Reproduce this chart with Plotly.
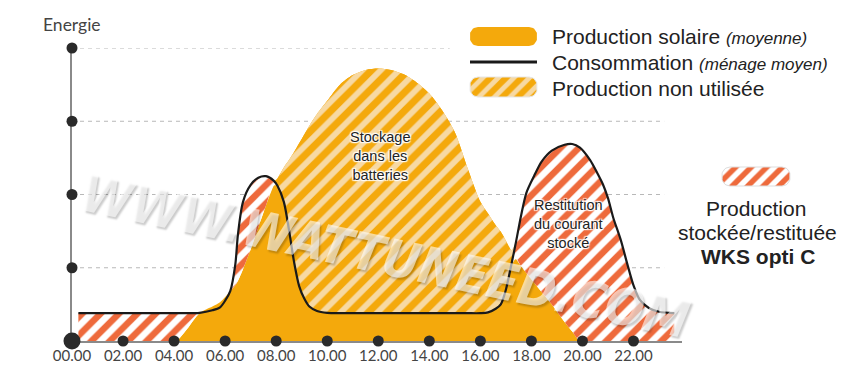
import numpy as np
import plotly.graph_objects as go

REF_W, REF_H = 853, 378
OFF = 8                      # page body margin of the exported html
W, H = REF_W - OFF, REF_H - OFF

# ---- data ----
hours = [0.25, 1, 2, 3, 4, 4.1, 4.5, 5.0, 5.5, 5.8, 6.0, 6.2, 6.4, 6.5, 6.7, 7.0, 7.3, 7.6,
         7.9, 8.05, 8.3, 8.5, 8.7, 8.9, 9.1, 9.3, 9.6, 10.0, 10.5, 11.0, 11.5, 12.0, 12.5,
         13.0, 13.5, 14.0, 14.5, 15.0, 15.5, 16.0, 16.3, 16.6, 16.8, 17.0, 17.2, 17.4, 17.6,
         17.8, 18.1, 18.4, 18.8, 19.3, 19.6, 19.9, 20.3, 20.6, 20.8, 21.0, 21.2, 21.5, 21.75,
         22.0, 22.25, 22.6, 23.0, 23.6]
production = [0, 0, 0, 0, 0, 0, 0.16, 0.38, 0.47, 0.53, 0.60, 0.68, 0.76, 0.82, 0.98, 1.25, 1.55, 1.85,
              2.12, 2.22, 2.37, 2.47, 2.58, 2.70, 2.82, 2.94, 3.10, 3.28, 3.50, 3.63, 3.70, 3.72, 3.70,
              3.64, 3.53, 3.38, 3.15, 2.85, 2.36, 1.90, 1.74, 1.58, 1.49, 1.37, 1.24, 1.12, 1.02,
              0.93, 0.80, 0.67, 0.50, 0.26, 0.13, 0.0, 0, 0, 0, 0, 0, 0, 0,
              0, 0, 0, 0, 0]
consumption = [0.38, 0.38, 0.38, 0.38, 0.38, 0.38, 0.38, 0.385, 0.42, 0.46, 0.55, 0.68, 1.05, 1.45, 1.90, 2.13, 2.23, 2.25,
               2.19, 2.12, 1.90, 1.52, 1.08, 0.75, 0.58, 0.47, 0.41, 0.385, 0.38, 0.38, 0.38, 0.38, 0.38,
               0.38, 0.38, 0.38, 0.38, 0.38, 0.38, 0.38, 0.39, 0.44, 0.50, 0.70, 1.02, 1.36, 1.72,
               2.02, 2.25, 2.45, 2.60, 2.68, 2.69, 2.64, 2.47, 2.28, 2.14, 1.95, 1.69, 1.38, 1.06,
               0.76, 0.56, 0.45, 0.40, 0.38]
hatch_start = 7.0  # unused-production hatching shown from the morning peak on

tick_hours = [0, 2, 4, 6, 8, 10, 12, 14, 16, 18, 20, 22]
tick_labels = ["00.00", "02.00", "04.00", "06.00", "08.00", "10.00", "12.00",
               "14.00", "16.00", "18.00", "20.00", "22.00"]
y_levels = [1, 2, 3, 4]

ORANGE = "#F4A90C"
ORANGE_LIGHT = "#F7D9A3"
RED = "#EE6A3C"
DOT = "#2a2a2a"
AXIS = "#8a8a8a"

h = np.array(hours)
P = np.array(production)
C = np.array(consumption)
lo = np.minimum(P, C)
hatch_top = np.where(h >= hatch_start, np.maximum(P, C), C)

fig = go.Figure()
spl = dict(shape="spline", smoothing=0.8, width=0)

fig.add_trace(go.Scatter(x=h, y=P, mode="lines", line=dict(color=ORANGE, **spl),
                         fill="tozeroy", fillcolor=ORANGE, hoverinfo="skip"))
fig.add_trace(go.Scatter(x=h, y=C, mode="lines", line=dict(color="rgba(0,0,0,0)", **spl),
                         hoverinfo="skip"))
fig.add_trace(go.Scatter(x=h, y=hatch_top, mode="lines", line=dict(color="rgba(0,0,0,0)", **spl),
                         fill="tonexty",
                         fillpattern=dict(shape="/", size=13, solidity=0.45, fgcolor=ORANGE_LIGHT,
                                          bgcolor=ORANGE, fillmode="replace"),
                         hoverinfo="skip"))
fig.add_trace(go.Scatter(x=h, y=lo, mode="lines", line=dict(color="rgba(0,0,0,0)", **spl),
                         hoverinfo="skip"))
fig.add_trace(go.Scatter(x=h, y=C, mode="lines", line=dict(color="rgba(0,0,0,0)", **spl),
                         fill="tonexty",
                         fillpattern=dict(shape="/", size=13, solidity=0.5, fgcolor=RED,
                                          bgcolor="#ffffff", fillmode="replace"),
                         hoverinfo="skip"))
fig.add_trace(go.Scatter(x=h, y=C, mode="lines",
                         line=dict(color="#1a1a1a", width=2.2, shape="spline", smoothing=0.8),
                         hoverinfo="skip"))
fig.add_trace(go.Scatter(x=tick_hours, y=[0] * len(tick_hours), mode="markers",
                         marker=dict(color=DOT, opacity=1, size=[17] + [11] * (len(tick_hours) - 1),
                                     line=dict(width=0)),
                         cliponaxis=False, hoverinfo="skip"))
fig.add_trace(go.Scatter(x=[0] * len(y_levels), y=y_levels, mode="markers",
                         marker=dict(color=DOT, opacity=1, size=11, line=dict(width=0)),
                         cliponaxis=False, hoverinfo="skip"))


# ---- legend swatches on an overlay axis in reference pixels ----
def rounded_rect(x0, y0, x1, y1, r):
    xs, ys = [], []
    corners = [(x1 - r, y0 + r, -90, 0), (x1 - r, y1 - r, 0, 90),
               (x0 + r, y1 - r, 90, 180), (x0 + r, y0 + r, 180, 270)]
    for cx, cy, a0, a1 in corners:
        t = np.radians(np.linspace(a0, a1, 10))
        xs += list(cx + r * np.cos(t))
        ys += list(cy + r * np.sin(t))
    xs.append(xs[0]); ys.append(ys[0])
    return xs, ys

sx, sy = rounded_rect(470, 27, 537, 46, 8)
fig.add_trace(go.Scatter(x=sx, y=sy, xaxis="x2", yaxis="y2", mode="lines",
                         line=dict(width=0, color=ORANGE), fill="toself", fillcolor=ORANGE,
                         hoverinfo="skip"))
sx, sy = rounded_rect(470, 77, 537, 97, 8)
fig.add_trace(go.Scatter(x=sx, y=sy, xaxis="x2", yaxis="y2", mode="lines",
                         line=dict(width=1, color="#e6e6e6"), fill="toself",
                         fillpattern=dict(shape="/", size=11, solidity=0.45, fgcolor=ORANGE_LIGHT,
                                          bgcolor=ORANGE, fillmode="replace"),
                         hoverinfo="skip"))
sx, sy = rounded_rect(722, 167, 790, 186, 8)
fig.add_trace(go.Scatter(x=sx, y=sy, xaxis="x2", yaxis="y2", mode="lines",
                         line=dict(width=1, color="#dddddd"), fill="toself",
                         fillpattern=dict(shape="/", size=11, solidity=0.5, fgcolor=RED,
                                          bgcolor="#ffffff", fillmode="replace"),
                         hoverinfo="skip"))


def px_x(x):
    return (x - OFF) / W


def px_y(y):
    return 1 - (y - OFF) / H


shapes = []
for lv in y_levels:
    shapes.append(dict(type="line", xref="x", yref="y", x0=0, x1=(14.8 if lv == 4 else 23.2),
                       y0=lv, y1=lv, layer="below",
                       line=dict(color="#b8b8b8", width=1, dash="4px,4px")))
shapes.append(dict(type="line", xref="paper", yref="paper", x0=px_x(470), x1=px_x(537),
                   y0=px_y(62), y1=px_y(62), line=dict(color="#1a1a1a", width=3)))

anns = []


def ann(text, x, y, size, color="#222", family="Liberation Sans, Arial, sans-serif",
        xanchor="left", align="left", **fk):
    f = dict(size=size, color=color, family=family)
    f.update(fk)
    anns.append(dict(text=text, x=px_x(x), y=px_y(y), xref="paper", yref="paper",
                     showarrow=False, xanchor=xanchor, yanchor="middle", align=align, font=f))


ann("Energie", 72, 25, 17.5, color="#444", family="Lato, sans-serif", xanchor="center", align="center")
ann("Production solaire <i><span style='font-size:17px'>(moyenne)</span></i>", 550, 36, 21)
ann("Consommation <i><span style='font-size:17px'>(ménage moyen)</span></i>", 550, 62, 21)
ann("Production non utilisée", 550, 88, 21)
ann("Production", 756, 208, 21, xanchor="center", align="center")
ann("stockée/restituée", 757, 232, 21, xanchor="center", align="center")
ann("<b>WKS opti C</b>", 758, 256, 21, xanchor="center", align="center")

outline = ("-1px -1px 1px #fff, 1px -1px 1px #fff, -1px 1px 1px #fff, 1px 1px 1px #fff, "
           "0 0 3px #fff")
ann("Stockage<br>dans les<br>batteries", 380, 156, 14.5, xanchor="center", align="center",
    shadow=outline)
ann("Restitution<br>du courant<br>stocké", 568, 224, 14.5, xanchor="center", align="center",
    shadow=outline)

# watermark
anns.append(dict(text="WWW.WATTUNEED.COM", x=px_x(385), y=px_y(256), xref="paper", yref="paper",
                 showarrow=False, xanchor="center", yanchor="middle", textangle=12,
                 font=dict(size=51, color="rgba(255,255,255,0.6)",
                           family="Liberation Sans Narrow, DejaVu Sans Condensed, Liberation Sans",
                           weight="bold", style="italic",
                           shadow="2px 2px 2px rgba(0,0,0,0.35)")))

fig.update_layout(
    width=W, height=H, margin=dict(l=0, r=0, t=0, b=0),
    paper_bgcolor="white", plot_bgcolor="rgba(0,0,0,0)", showlegend=False,
    xaxis=dict(domain=[px_x(72), px_x(682)], range=[0, 23.9], showline=True, linecolor=AXIS,
               linewidth=2, showgrid=False, zeroline=False, tickmode="array",
               tickvals=tick_hours, ticktext=tick_labels, ticks="", automargin=False,
               tickfont=dict(family="Lato, sans-serif", size=15, color="#444"),
               fixedrange=True, anchor="y", layer="below traces"),
    yaxis=dict(domain=[px_y(341), px_y(48)], range=[0, 4], showline=True, linecolor=AXIS,
               linewidth=2, showgrid=False, zeroline=False, showticklabels=False,
               ticks="", automargin=False, fixedrange=True, anchor="x", layer="below traces"),
    xaxis2=dict(domain=[0, 1], range=[OFF, REF_W], visible=False, anchor="y2", fixedrange=True),
    yaxis2=dict(domain=[0, 1], range=[REF_H, OFF], visible=False, anchor="x2", fixedrange=True),
    shapes=shapes, annotations=anns,
)

fig.write_html("out.html")
